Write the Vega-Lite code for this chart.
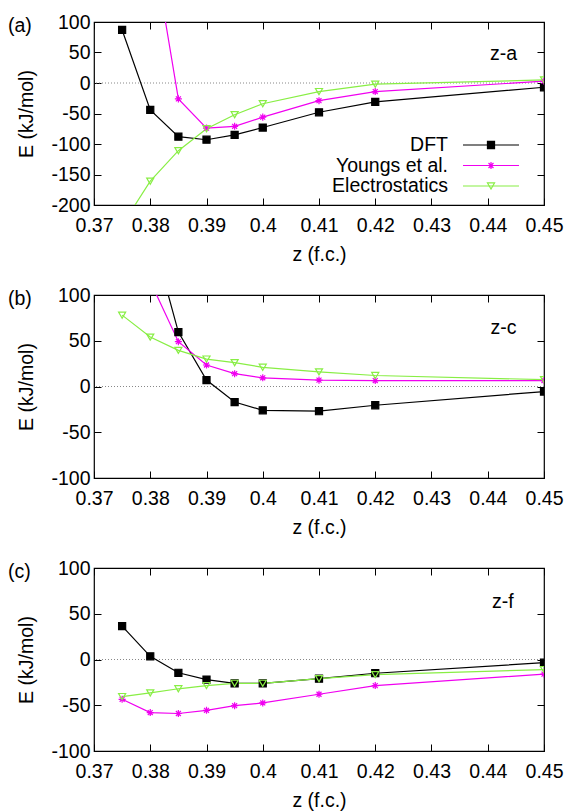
{
  "$schema": "https://vega.github.io/schema/vega-lite/v6.json",
  "padding": {"left": 7, "top": 11, "right": 5, "bottom": 0},
  "bounds": "flush",
  "spacing": 90,
  "config": {
    "font": "Liberation Sans",
    "view": {"stroke": "black", "strokeWidth": 1.2},
    "axis": {"domain": false, "grid": false, "ticks": true, "tickSize": -7, "tickColor": "black", "tickWidth": 1,
      "labelFont": "Liberation Sans", "labelFontSize": 19.5, "labelColor": "black", "labelFlush": false, "labelOverlap": false,
      "titleFont": "Liberation Sans", "titleFontSize": 19.5, "titleFontWeight": "normal", "titleColor": "black"},
    "axisX": {"labelPadding": 18, "titlePadding": 11},
    "axisY": {"labelPadding": 11, "titlePadding": 14},
    "title": {"font": "Liberation Sans", "fontSize": 19.5, "fontWeight": "normal", "color": "black"}
  },
  "datasets": {
    "pts": [
      {"panel": "a", "series": "DFT", "z": 0.375, "E": 87},
      {"panel": "a", "series": "DFT", "z": 0.38, "E": -44},
      {"panel": "a", "series": "DFT", "z": 0.385, "E": -88},
      {"panel": "a", "series": "DFT", "z": 0.39, "E": -93},
      {"panel": "a", "series": "DFT", "z": 0.395, "E": -85},
      {"panel": "a", "series": "DFT", "z": 0.40, "E": -73},
      {"panel": "a", "series": "DFT", "z": 0.41, "E": -48},
      {"panel": "a", "series": "DFT", "z": 0.42, "E": -31},
      {"panel": "a", "series": "DFT", "z": 0.45, "E": -7},
      {"panel": "a", "series": "Youngs et al.", "z": 0.38, "E": 250},
      {"panel": "a", "series": "Youngs et al.", "z": 0.385, "E": -26},
      {"panel": "a", "series": "Youngs et al.", "z": 0.39, "E": -74},
      {"panel": "a", "series": "Youngs et al.", "z": 0.395, "E": -71},
      {"panel": "a", "series": "Youngs et al.", "z": 0.40, "E": -56},
      {"panel": "a", "series": "Youngs et al.", "z": 0.41, "E": -29},
      {"panel": "a", "series": "Youngs et al.", "z": 0.42, "E": -14},
      {"panel": "a", "series": "Youngs et al.", "z": 0.45, "E": 3},
      {"panel": "a", "series": "Electrostatics", "z": 0.375, "E": -233},
      {"panel": "a", "series": "Electrostatics", "z": 0.38, "E": -161},
      {"panel": "a", "series": "Electrostatics", "z": 0.385, "E": -111},
      {"panel": "a", "series": "Electrostatics", "z": 0.39, "E": -75},
      {"panel": "a", "series": "Electrostatics", "z": 0.395, "E": -52},
      {"panel": "a", "series": "Electrostatics", "z": 0.40, "E": -34},
      {"panel": "a", "series": "Electrostatics", "z": 0.41, "E": -14},
      {"panel": "a", "series": "Electrostatics", "z": 0.42, "E": -2},
      {"panel": "a", "series": "Electrostatics", "z": 0.45, "E": 5},
      {"panel": "b", "series": "DFT", "z": 0.38, "E": 172},
      {"panel": "b", "series": "DFT", "z": 0.385, "E": 59.5},
      {"panel": "b", "series": "DFT", "z": 0.39, "E": 7},
      {"panel": "b", "series": "DFT", "z": 0.395, "E": -17},
      {"panel": "b", "series": "DFT", "z": 0.40, "E": -26},
      {"panel": "b", "series": "DFT", "z": 0.41, "E": -27},
      {"panel": "b", "series": "DFT", "z": 0.42, "E": -20.5},
      {"panel": "b", "series": "DFT", "z": 0.45, "E": -5.5},
      {"panel": "b", "series": "Youngs et al.", "z": 0.38, "E": 115},
      {"panel": "b", "series": "Youngs et al.", "z": 0.385, "E": 49},
      {"panel": "b", "series": "Youngs et al.", "z": 0.39, "E": 23.5},
      {"panel": "b", "series": "Youngs et al.", "z": 0.395, "E": 14},
      {"panel": "b", "series": "Youngs et al.", "z": 0.40, "E": 9.5},
      {"panel": "b", "series": "Youngs et al.", "z": 0.41, "E": 7},
      {"panel": "b", "series": "Youngs et al.", "z": 0.42, "E": 6.5},
      {"panel": "b", "series": "Youngs et al.", "z": 0.45, "E": 6.5},
      {"panel": "b", "series": "Electrostatics", "z": 0.375, "E": 78},
      {"panel": "b", "series": "Electrostatics", "z": 0.38, "E": 54},
      {"panel": "b", "series": "Electrostatics", "z": 0.385, "E": 39.5},
      {"panel": "b", "series": "Electrostatics", "z": 0.39, "E": 30},
      {"panel": "b", "series": "Electrostatics", "z": 0.395, "E": 26},
      {"panel": "b", "series": "Electrostatics", "z": 0.40, "E": 21},
      {"panel": "b", "series": "Electrostatics", "z": 0.41, "E": 16},
      {"panel": "b", "series": "Electrostatics", "z": 0.42, "E": 12},
      {"panel": "b", "series": "Electrostatics", "z": 0.45, "E": 7.5},
      {"panel": "c", "series": "DFT", "z": 0.375, "E": 36.5},
      {"panel": "c", "series": "DFT", "z": 0.38, "E": 3.5},
      {"panel": "c", "series": "DFT", "z": 0.385, "E": -14.5},
      {"panel": "c", "series": "DFT", "z": 0.39, "E": -22},
      {"panel": "c", "series": "DFT", "z": 0.395, "E": -26},
      {"panel": "c", "series": "DFT", "z": 0.40, "E": -26},
      {"panel": "c", "series": "DFT", "z": 0.41, "E": -21},
      {"panel": "c", "series": "DFT", "z": 0.42, "E": -15},
      {"panel": "c", "series": "DFT", "z": 0.45, "E": -3.5},
      {"panel": "c", "series": "Youngs et al.", "z": 0.375, "E": -43.5},
      {"panel": "c", "series": "Youngs et al.", "z": 0.38, "E": -58},
      {"panel": "c", "series": "Youngs et al.", "z": 0.385, "E": -59},
      {"panel": "c", "series": "Youngs et al.", "z": 0.39, "E": -55.5},
      {"panel": "c", "series": "Youngs et al.", "z": 0.395, "E": -50.5},
      {"panel": "c", "series": "Youngs et al.", "z": 0.40, "E": -47.5},
      {"panel": "c", "series": "Youngs et al.", "z": 0.41, "E": -38},
      {"panel": "c", "series": "Youngs et al.", "z": 0.42, "E": -28.5},
      {"panel": "c", "series": "Youngs et al.", "z": 0.45, "E": -16},
      {"panel": "c", "series": "Electrostatics", "z": 0.375, "E": -40.5},
      {"panel": "c", "series": "Electrostatics", "z": 0.38, "E": -36.5},
      {"panel": "c", "series": "Electrostatics", "z": 0.385, "E": -32},
      {"panel": "c", "series": "Electrostatics", "z": 0.39, "E": -28.5},
      {"panel": "c", "series": "Electrostatics", "z": 0.395, "E": -26},
      {"panel": "c", "series": "Electrostatics", "z": 0.40, "E": -26},
      {"panel": "c", "series": "Electrostatics", "z": 0.41, "E": -21},
      {"panel": "c", "series": "Electrostatics", "z": 0.42, "E": -16.5},
      {"panel": "c", "series": "Electrostatics", "z": 0.45, "E": -11}
    ]
  },
  "resolve": {
    "scale": {"x": "independent", "y": "independent", "color": "independent", "stroke": "independent", "fill": "independent", "shape": "independent"},
    "legend": {"color": "independent", "stroke": "independent", "fill": "independent", "shape": "independent"}
  },
  "vconcat": [
    {
      "width": 450, "height": 183,
      "title": {"text": "(a)", "anchor": "start", "frame": "group", "orient": "top", "offset": -33, "dx": -86, "baseline": "middle"},
      "layer": [
        {"data": {"values": [{}]}, "mark": {"type": "rule", "stroke": "#888888", "strokeWidth": 1, "strokeDash": [1, 2]},
         "encoding": {"y": {"datum": 0, "type": "quantitative", "scale": {"domain": [-200, 100], "nice": false, "zero": false}, "axis": null}}},
        {"data": {"name": "pts"}, "transform": [{"filter": "datum.panel === 'a'"}],
         "mark": {"type": "line", "clip": true, "strokeWidth": 1.2},
         "encoding": {
           "x": {"field": "z", "type": "quantitative", "scale": {"domain": [0.37, 0.45], "nice": false, "zero": false},
                 "axis": {"values": [0.37, 0.38, 0.39, 0.40, 0.41, 0.42, 0.43, 0.44, 0.45], "format": ".2~f", "title": "z (f.c.)"}},
           "y": {"field": "E", "type": "quantitative", "scale": {"domain": [-200, 100], "nice": false, "zero": false},
                 "axis": {"values": [-200, -150, -100, -50, 0, 50, 100], "labelExpr": "toString(datum.value)", "title": "E (kJ/mol)"}},
           "color": {"field": "series", "type": "nominal", "sort": ["DFT", "Youngs et al.", "Electrostatics"],
                     "scale": {"range": ["#000000", "#f000f0", "#88ee44"]},
                     "legend": {"orient": "none", "legendX": 368, "legendY": 113, "title": null, "padding": 0, "direction": "vertical",
                                "labelAlign": "right", "labelBaseline": "middle", "labelOffset": -72, "labelFontSize": 19.5, "labelFont": "Liberation Sans", "labelColor": "black", "labelLimit": 300,
                                "symbolType": "M-1,0H1", "symbolSize": 3136, "symbolStrokeWidth": 1.2, "clipHeight": 20, "rowPadding": 0.5,
                                "encode": {"entries": {"update": {"width": {"value": 62}, "height": {"value": 20}}}}}}
         }},
        {"data": {"name": "pts"}, "transform": [{"filter": "datum.panel === 'a'"}],
         "mark": {"type": "point", "clip": true, "filled": false, "strokeWidth": 1.2, "size": 50, "opacity": 1},
         "encoding": {
           "x": {"field": "z", "type": "quantitative", "scale": {"domain": [0.37, 0.45], "nice": false, "zero": false},
                 "axis": {"orient": "top", "labels": false, "title": null, "values": [0.37, 0.38, 0.39, 0.40, 0.41, 0.42, 0.43, 0.44, 0.45]}},
           "y": {"field": "E", "type": "quantitative", "scale": {"domain": [-200, 100], "nice": false, "zero": false},
                 "axis": {"orient": "right", "labels": false, "title": null, "values": [-200, -150, -100, -50, 0, 50, 100]}},
           "stroke": {"field": "series", "type": "nominal", "scale": {"domain": ["DFT", "Youngs et al.", "Electrostatics"], "range": ["#000000", "#f000f0", "#88ee44"]},
                      "legend": {"orient": "none", "legendX": 387.25, "legendY": 113, "title": null, "padding": 0, "direction": "vertical",
                                 "labelOpacity": 0, "labelExpr": "''", "labelFontSize": 19.5, "labelFont": "Liberation Sans",
                                 "symbolSize": 50, "symbolStrokeWidth": 1.2, "clipHeight": 20, "rowPadding": 0.5,
                                 "encode": {"entries": {"update": {"width": {"value": 24}, "height": {"value": 20}}}}}},
           "fill": {"field": "series", "type": "nominal", "scale": {"domain": ["DFT", "Youngs et al.", "Electrostatics"], "range": ["#000000", "transparent", "transparent"]},
                    "legend": {"orient": "none", "legendX": 387.25, "legendY": 113, "title": null, "padding": 0, "direction": "vertical",
                               "labelOpacity": 0, "labelExpr": "''", "labelFontSize": 19.5, "labelFont": "Liberation Sans",
                               "symbolSize": 50, "symbolStrokeWidth": 1.2, "clipHeight": 20, "rowPadding": 0.5,
                               "encode": {"entries": {"update": {"width": {"value": 24}, "height": {"value": 20}}}}}},
           "shape": {"field": "series", "type": "nominal", "scale": {"domain": ["DFT", "Youngs et al.", "Electrostatics"], "range": ["square", "M-1,0H1M0,-1V1M-0.7,-0.7L0.7,0.7M-0.7,0.7L0.7,-0.7", "triangle-down"]},
                     "legend": {"orient": "none", "legendX": 387.25, "legendY": 113, "title": null, "padding": 0, "direction": "vertical",
                                "labelOpacity": 0, "labelExpr": "''", "labelFontSize": 19.5, "labelFont": "Liberation Sans",
                                "symbolSize": 50, "symbolStrokeWidth": 1.2, "clipHeight": 20, "rowPadding": 0.5,
                                "encode": {"entries": {"update": {"width": {"value": 24}, "height": {"value": 20}}}}}}
         }},
        {"data": {"values": [{}]}, "mark": {"type": "text", "text": "z-a", "fontSize": 19.5, "font": "Liberation Sans", "align": "center", "baseline": "middle", "color": "black"},
         "encoding": {"x": {"datum": 0.4428, "type": "quantitative", "axis": null, "scale": {"domain": [0.37, 0.45], "nice": false, "zero": false}},
                      "y": {"datum": 48, "type": "quantitative", "axis": null, "scale": {"domain": [-200, 100], "nice": false, "zero": false}}}}
      ],
      "resolve": {"axis": {"x": "independent", "y": "independent"}}
    },
    {
      "width": 450, "height": 183,
      "title": {"text": "(b)", "anchor": "start", "frame": "group", "orient": "top", "offset": -33, "dx": -86, "baseline": "middle"},
      "layer": [
        {"data": {"values": [{}]}, "mark": {"type": "rule", "stroke": "#888888", "strokeWidth": 1, "strokeDash": [1, 2]},
         "encoding": {"y": {"datum": 0, "type": "quantitative", "scale": {"domain": [-100, 100], "nice": false, "zero": false}, "axis": null}}},
        {"data": {"name": "pts"}, "transform": [{"filter": "datum.panel === 'b'"}],
         "mark": {"type": "line", "clip": true, "strokeWidth": 1.2},
         "encoding": {
           "x": {"field": "z", "type": "quantitative", "scale": {"domain": [0.37, 0.45], "nice": false, "zero": false},
                 "axis": {"values": [0.37, 0.38, 0.39, 0.40, 0.41, 0.42, 0.43, 0.44, 0.45], "format": ".2~f", "title": "z (f.c.)"}},
           "y": {"field": "E", "type": "quantitative", "scale": {"domain": [-100, 100], "nice": false, "zero": false},
                 "axis": {"values": [-100, -50, 0, 50, 100], "labelExpr": "toString(datum.value)", "title": "E (kJ/mol)"}},
           "color": {"field": "series", "type": "nominal", "sort": ["DFT", "Youngs et al.", "Electrostatics"],
                     "scale": {"range": ["#000000", "#f000f0", "#88ee44"]}, "legend": null}
         }},
        {"data": {"name": "pts"}, "transform": [{"filter": "datum.panel === 'b'"}],
         "mark": {"type": "point", "clip": true, "filled": false, "strokeWidth": 1.2, "size": 50, "opacity": 1},
         "encoding": {
           "x": {"field": "z", "type": "quantitative", "scale": {"domain": [0.37, 0.45], "nice": false, "zero": false},
                 "axis": {"orient": "top", "labels": false, "title": null, "values": [0.37, 0.38, 0.39, 0.40, 0.41, 0.42, 0.43, 0.44, 0.45]}},
           "y": {"field": "E", "type": "quantitative", "scale": {"domain": [-100, 100], "nice": false, "zero": false},
                 "axis": {"orient": "right", "labels": false, "title": null, "values": [-100, -50, 0, 50, 100]}},
           "stroke": {"field": "series", "type": "nominal", "scale": {"domain": ["DFT", "Youngs et al.", "Electrostatics"], "range": ["#000000", "#f000f0", "#88ee44"]}, "legend": null},
           "fill": {"field": "series", "type": "nominal", "scale": {"domain": ["DFT", "Youngs et al.", "Electrostatics"], "range": ["#000000", "transparent", "transparent"]}, "legend": null},
           "shape": {"field": "series", "type": "nominal", "scale": {"domain": ["DFT", "Youngs et al.", "Electrostatics"], "range": ["square", "M-1,0H1M0,-1V1M-0.7,-0.7L0.7,0.7M-0.7,0.7L0.7,-0.7", "triangle-down"]}, "legend": null}
         }},
        {"data": {"values": [{}]}, "mark": {"type": "text", "text": "z-c", "fontSize": 19.5, "font": "Liberation Sans", "align": "center", "baseline": "middle", "color": "black"},
         "encoding": {"x": {"datum": 0.4428, "type": "quantitative", "axis": null, "scale": {"domain": [0.37, 0.45], "nice": false, "zero": false}},
                      "y": {"datum": 64, "type": "quantitative", "axis": null, "scale": {"domain": [-100, 100], "nice": false, "zero": false}}}}
      ],
      "resolve": {"axis": {"x": "independent", "y": "independent"}}
    },
    {
      "width": 450, "height": 183,
      "title": {"text": "(c)", "anchor": "start", "frame": "group", "orient": "top", "offset": -33, "dx": -86, "baseline": "middle"},
      "layer": [
        {"data": {"values": [{}]}, "mark": {"type": "rule", "stroke": "#888888", "strokeWidth": 1, "strokeDash": [1, 2]},
         "encoding": {"y": {"datum": 0, "type": "quantitative", "scale": {"domain": [-100, 100], "nice": false, "zero": false}, "axis": null}}},
        {"data": {"name": "pts"}, "transform": [{"filter": "datum.panel === 'c'"}],
         "mark": {"type": "line", "clip": true, "strokeWidth": 1.2},
         "encoding": {
           "x": {"field": "z", "type": "quantitative", "scale": {"domain": [0.37, 0.45], "nice": false, "zero": false},
                 "axis": {"values": [0.37, 0.38, 0.39, 0.40, 0.41, 0.42, 0.43, 0.44, 0.45], "format": ".2~f", "title": "z (f.c.)"}},
           "y": {"field": "E", "type": "quantitative", "scale": {"domain": [-100, 100], "nice": false, "zero": false},
                 "axis": {"values": [-100, -50, 0, 50, 100], "labelExpr": "toString(datum.value)", "title": "E (kJ/mol)"}},
           "color": {"field": "series", "type": "nominal", "sort": ["DFT", "Youngs et al.", "Electrostatics"],
                     "scale": {"range": ["#000000", "#f000f0", "#88ee44"]}, "legend": null}
         }},
        {"data": {"name": "pts"}, "transform": [{"filter": "datum.panel === 'c'"}],
         "mark": {"type": "point", "clip": true, "filled": false, "strokeWidth": 1.2, "size": 50, "opacity": 1},
         "encoding": {
           "x": {"field": "z", "type": "quantitative", "scale": {"domain": [0.37, 0.45], "nice": false, "zero": false},
                 "axis": {"orient": "top", "labels": false, "title": null, "values": [0.37, 0.38, 0.39, 0.40, 0.41, 0.42, 0.43, 0.44, 0.45]}},
           "y": {"field": "E", "type": "quantitative", "scale": {"domain": [-100, 100], "nice": false, "zero": false},
                 "axis": {"orient": "right", "labels": false, "title": null, "values": [-100, -50, 0, 50, 100]}},
           "stroke": {"field": "series", "type": "nominal", "scale": {"domain": ["DFT", "Youngs et al.", "Electrostatics"], "range": ["#000000", "#f000f0", "#88ee44"]}, "legend": null},
           "fill": {"field": "series", "type": "nominal", "scale": {"domain": ["DFT", "Youngs et al.", "Electrostatics"], "range": ["#000000", "transparent", "transparent"]}, "legend": null},
           "shape": {"field": "series", "type": "nominal", "scale": {"domain": ["DFT", "Youngs et al.", "Electrostatics"], "range": ["square", "M-1,0H1M0,-1V1M-0.7,-0.7L0.7,0.7M-0.7,0.7L0.7,-0.7", "triangle-down"]}, "legend": null}
         }},
        {"data": {"values": [{}]}, "mark": {"type": "text", "text": "z-f", "fontSize": 19.5, "font": "Liberation Sans", "align": "center", "baseline": "middle", "color": "black"},
         "encoding": {"x": {"datum": 0.4427, "type": "quantitative", "axis": null, "scale": {"domain": [0.37, 0.45], "nice": false, "zero": false}},
                      "y": {"datum": 62.5, "type": "quantitative", "axis": null, "scale": {"domain": [-100, 100], "nice": false, "zero": false}}}}
      ],
      "resolve": {"axis": {"x": "independent", "y": "independent"}}
    }
  ]
}
